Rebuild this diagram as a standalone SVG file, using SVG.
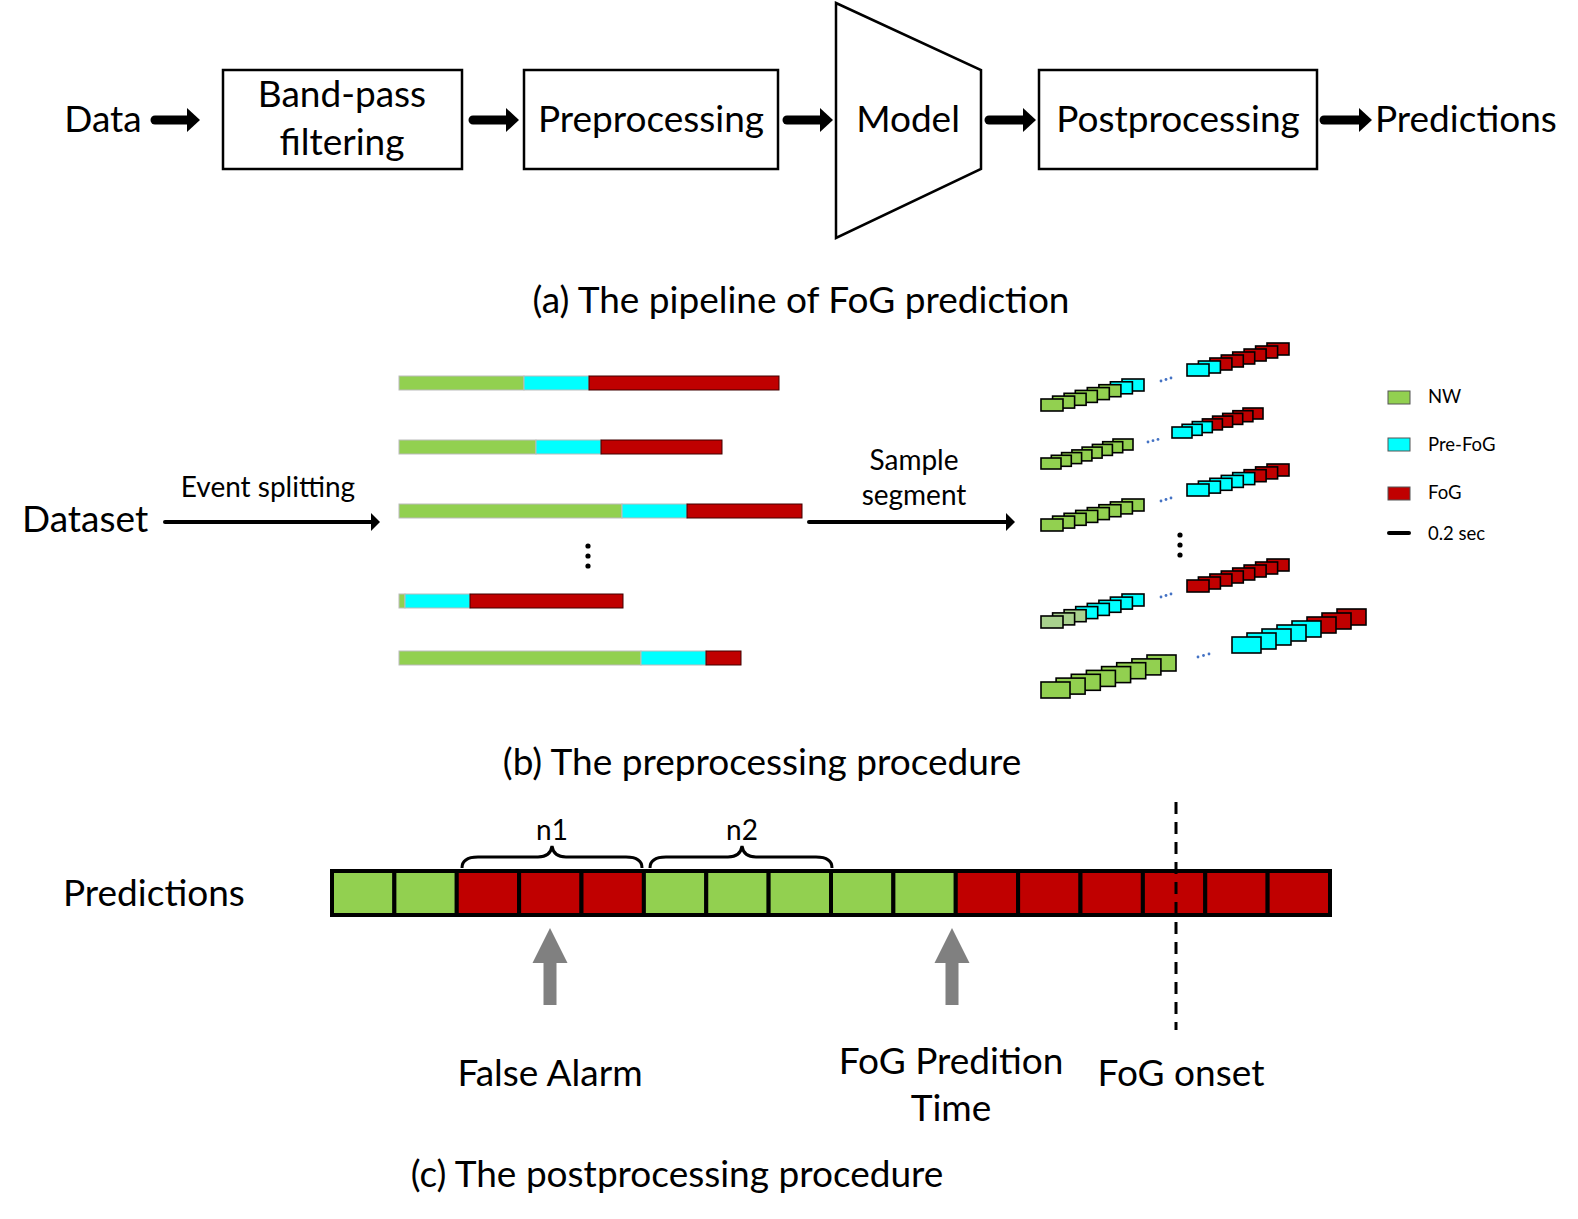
<svg xmlns="http://www.w3.org/2000/svg" width="1578" height="1219" viewBox="0 0 1578 1219">
<style>
text{font-family:Lato,"Liberation Sans",sans-serif;fill:#000}
.big{font-size:37px}
.mid{font-size:28px}
.leg{font-size:18.5px}
.box{fill:#fff;stroke:#000;stroke-width:2.5}
.thick{stroke:#000;stroke-width:9;stroke-linecap:round;fill:none}
.thin{stroke:#000;stroke-width:4;stroke-linecap:round;fill:none}
.g{fill:#92d050}.c{fill:#00ffff}.r{fill:#c00000}.lg{fill:#a9d18e}
.seg rect{stroke:#000;stroke-width:1.6}
.bar rect{stroke:#bbb;stroke-width:1}
.bar rect.r{stroke:#400000}
.cell{stroke:#000;stroke-width:4}
.dot{fill:#4472c4}
.brace{fill:none;stroke:#000;stroke-width:3}
.garrow{fill:#808080}
</style>
<defs>
<marker id="hb" markerUnits="userSpaceOnUse" markerWidth="13" markerHeight="24" viewBox="0 0 13 24" refX="1" refY="12" orient="auto"><path d="M0,0 L13,12 L0,24 z" fill="#000"/></marker>
<marker id="hs" markerUnits="userSpaceOnUse" markerWidth="9" markerHeight="18" viewBox="0 0 9 18" refX="1" refY="9" orient="auto"><path d="M0,0 L9,9 L0,18 z" fill="#000"/></marker>
</defs>

<!-- (a) pipeline -->
<g id="data"><text class="big" x="103" y="132" text-anchor="middle">Data</text></g>
<g id="bandpass"><rect class="box" x="223" y="70" width="239" height="99"/><text class="big" x="342" y="107" text-anchor="middle">Band-pass</text><text class="big" x="342" y="155" text-anchor="middle">filtering</text></g>
<g id="preprocessing"><rect class="box" x="524" y="70" width="254" height="99"/><text class="big" x="651" y="132" text-anchor="middle">Preprocessing</text></g>
<g id="model"><polygon class="box" points="836,3 981,70 981,169 836,238"/><text class="big" x="908" y="132" text-anchor="middle">Model</text></g>
<g id="postprocessing"><rect class="box" x="1039" y="70" width="278" height="99"/><text class="big" x="1178" y="132" text-anchor="middle">Postprocessing</text></g>
<g id="predictions-a"><text class="big" x="1375" y="132">Predictions</text></g>
<g id="caption-a"><text class="big" x="801" y="313" text-anchor="middle">(a) The pipeline of FoG prediction</text></g>

<g id="connectors">
<line class="thick" x1="155" y1="120" x2="188" y2="120" marker-end="url(#hb)"/>
<line class="thick" x1="473" y1="120" x2="507" y2="120" marker-end="url(#hb)"/>
<line class="thick" x1="787" y1="120" x2="821" y2="120" marker-end="url(#hb)"/>
<line class="thick" x1="989" y1="120" x2="1024" y2="120" marker-end="url(#hb)"/>
<line class="thick" x1="1324" y1="120" x2="1360" y2="120" marker-end="url(#hb)"/>
<line class="thin" x1="165" y1="522" x2="372" y2="522" marker-end="url(#hs)"/>
<line class="thin" x1="809" y1="522" x2="1007" y2="522" marker-end="url(#hs)"/>
</g>

<!-- (b) preprocessing -->
<g id="dataset"><text class="big" x="22" y="532">Dataset</text></g>
<g id="event-splitting-label"><text class="mid" x="268" y="497" text-anchor="middle">Event splitting</text></g>
<g id="sample-segment-label"><text class="mid" x="914" y="470" text-anchor="middle">Sample</text><text class="mid" x="914" y="505" text-anchor="middle">segment</text></g>

<g id="bars" class="bar">
<rect class="g" x="399" y="376" width="125" height="14"/><rect class="c" x="524" y="376" width="65" height="14"/><rect class="r" x="589" y="376" width="190" height="14"/>
<rect class="g" x="399" y="440" width="137" height="14"/><rect class="c" x="536" y="440" width="65" height="14"/><rect class="r" x="601" y="440" width="121" height="14"/>
<rect class="g" x="399" y="504" width="223" height="14"/><rect class="c" x="622" y="504" width="65" height="14"/><rect class="r" x="687" y="504" width="115" height="14"/>
<rect class="g" x="399" y="594" width="6" height="14"/><rect class="c" x="405" y="594" width="65" height="14"/><rect class="r" x="470" y="594" width="153" height="14"/>
<rect class="g" x="399" y="651" width="242" height="14"/><rect class="c" x="641" y="651" width="65" height="14"/><rect class="r" x="706" y="651" width="35" height="14"/>
</g>
<g id="bar-dots"><circle cx="588" cy="546" r="2.6"/><circle cx="588" cy="556" r="2.6"/><circle cx="588" cy="566" r="2.6"/></g>

<g id="segments" class="seg">
<rect class="c" x="1122" y="379" width="22" height="12"/>
<rect class="c" x="1110.4" y="381.8" width="22" height="12"/>
<rect class="g" x="1098.9" y="384.7" width="22" height="12"/>
<rect class="g" x="1087.3" y="387.6" width="22" height="12"/>
<rect class="g" x="1075.3" y="390.4" width="22" height="12"/>
<rect class="g" x="1064.1" y="393.3" width="22" height="12"/>
<rect class="g" x="1052.6" y="396.1" width="22" height="12"/>
<rect class="g" x="1041" y="399" width="22" height="12"/>
<rect class="r" x="1267" y="343" width="22" height="12"/>
<rect class="r" x="1255.6" y="346" width="22" height="12"/>
<rect class="r" x="1244.1" y="349" width="22" height="12"/>
<rect class="r" x="1232.7" y="352" width="22" height="12"/>
<rect class="r" x="1221.3" y="355" width="22" height="12"/>
<rect class="r" x="1209.9" y="358" width="22" height="12"/>
<rect class="c" x="1198.4" y="361" width="22" height="12"/>
<rect class="c" x="1187" y="364" width="22" height="12"/>
<rect class="g" x="1113" y="439" width="20" height="11"/>
<rect class="g" x="1102.7" y="441.7" width="20" height="11"/>
<rect class="g" x="1092.4" y="444.4" width="20" height="11"/>
<rect class="g" x="1082.1" y="447.1" width="20" height="11"/>
<rect class="g" x="1071.9" y="449.9" width="20" height="11"/>
<rect class="g" x="1061.6" y="452.6" width="20" height="11"/>
<rect class="g" x="1051.3" y="455.3" width="20" height="11"/>
<rect class="g" x="1041" y="458" width="20" height="11"/>
<rect class="r" x="1243" y="408" width="20" height="11"/>
<rect class="r" x="1232.9" y="410.7" width="20" height="11"/>
<rect class="r" x="1222.7" y="413.4" width="20" height="11"/>
<rect class="r" x="1212.6" y="416.1" width="20" height="11"/>
<rect class="r" x="1202.4" y="418.9" width="20" height="11"/>
<rect class="c" x="1192.3" y="421.6" width="20" height="11"/>
<rect class="c" x="1182.1" y="424.3" width="20" height="11"/>
<rect class="c" x="1172" y="427" width="20" height="11"/>
<rect class="g" x="1122" y="499" width="22" height="12"/>
<rect class="g" x="1110.4" y="501.9" width="22" height="12"/>
<rect class="g" x="1098.9" y="504.7" width="22" height="12"/>
<rect class="g" x="1087.3" y="507.6" width="22" height="12"/>
<rect class="g" x="1075.7" y="510.4" width="22" height="12"/>
<rect class="g" x="1064.1" y="513.3" width="22" height="12"/>
<rect class="g" x="1052.6" y="516.1" width="22" height="12"/>
<rect class="g" x="1041" y="519" width="22" height="12"/>
<rect class="r" x="1267" y="464" width="22" height="12"/>
<rect class="r" x="1255.6" y="466.9" width="22" height="12"/>
<rect class="r" x="1244.1" y="469.7" width="22" height="12"/>
<rect class="c" x="1232.7" y="472.6" width="22" height="12"/>
<rect class="c" x="1221.3" y="475.4" width="22" height="12"/>
<rect class="c" x="1209.9" y="478.3" width="22" height="12"/>
<rect class="c" x="1198.4" y="481.1" width="22" height="12"/>
<rect class="c" x="1187" y="484" width="22" height="12"/>
<rect class="c" x="1122" y="594" width="22" height="12"/>
<rect class="c" x="1110.4" y="597.1" width="22" height="12"/>
<rect class="c" x="1098.9" y="600.3" width="22" height="12"/>
<rect class="c" x="1087.3" y="603.4" width="22" height="12"/>
<rect class="c" x="1075.7" y="606.6" width="22" height="12"/>
<rect class="lg" x="1064.1" y="609.7" width="22" height="12"/>
<rect class="lg" x="1052.6" y="612.9" width="22" height="12"/>
<rect class="lg" x="1041" y="616" width="22" height="12"/>
<rect class="r" x="1267" y="559" width="22" height="12"/>
<rect class="r" x="1255.6" y="562" width="22" height="12"/>
<rect class="r" x="1244.1" y="565" width="22" height="12"/>
<rect class="r" x="1232.7" y="568" width="22" height="12"/>
<rect class="r" x="1221.3" y="571" width="22" height="12"/>
<rect class="r" x="1209.9" y="574" width="22" height="12"/>
<rect class="r" x="1198.4" y="577" width="22" height="12"/>
<rect class="r" x="1187" y="580" width="22" height="12"/>
<rect class="g" x="1147" y="655" width="29" height="16"/>
<rect class="g" x="1131.9" y="658.9" width="29" height="16"/>
<rect class="g" x="1116.7" y="662.7" width="29" height="16"/>
<rect class="g" x="1101.6" y="666.6" width="29" height="16"/>
<rect class="g" x="1086.4" y="670.4" width="29" height="16"/>
<rect class="g" x="1071.3" y="674.3" width="29" height="16"/>
<rect class="g" x="1056.1" y="678.1" width="29" height="16"/>
<rect class="g" x="1041" y="682" width="29" height="16"/>
<rect class="r" x="1337" y="609" width="29" height="16"/>
<rect class="r" x="1322" y="613" width="29" height="16"/>
<rect class="r" x="1307" y="617" width="29" height="16"/>
<rect class="c" x="1292" y="621" width="29" height="16"/>
<rect class="c" x="1277" y="625" width="29" height="16"/>
<rect class="c" x="1262" y="629" width="29" height="16"/>
<rect class="c" x="1247" y="633" width="29" height="16"/>
<rect class="c" x="1232" y="637" width="29" height="16"/>
</g>
<g id="seg-dots">
<circle class="dot" cx="1161" cy="381" r="1.4"/><circle class="dot" cx="1166" cy="379.5" r="1.4"/><circle class="dot" cx="1171" cy="378" r="1.4"/>
<circle class="dot" cx="1148" cy="442" r="1.4"/><circle class="dot" cx="1153" cy="440.7" r="1.4"/><circle class="dot" cx="1158" cy="439.4" r="1.4"/>
<circle class="dot" cx="1161" cy="501" r="1.4"/><circle class="dot" cx="1166" cy="499.5" r="1.4"/><circle class="dot" cx="1171" cy="498" r="1.4"/>
<circle class="dot" cx="1161" cy="597" r="1.4"/><circle class="dot" cx="1166" cy="595.5" r="1.4"/><circle class="dot" cx="1171" cy="594" r="1.4"/>
<circle class="dot" cx="1198" cy="657" r="1.4"/><circle class="dot" cx="1203.5" cy="655.5" r="1.4"/><circle class="dot" cx="1209" cy="654" r="1.4"/>
<circle cx="1180" cy="535" r="2.6"/><circle cx="1180" cy="545" r="2.6"/><circle cx="1180" cy="555" r="2.6"/>
</g>

<g id="legend">
<rect class="g" x="1388" y="391" width="22" height="13" stroke="#555" stroke-width="1"/><text class="leg" x="1428" y="403">NW</text>
<rect class="c" x="1388" y="438" width="22" height="13" stroke="#555" stroke-width="1"/><text class="leg" x="1428" y="451">Pre-FoG</text>
<rect class="r" x="1388" y="487" width="22" height="13" stroke="#555" stroke-width="1"/><text class="leg" x="1428" y="499">FoG</text>
<line x1="1389" y1="533" x2="1409" y2="533" stroke="#000" stroke-width="4" stroke-linecap="round"/><text class="leg" x="1428" y="540">0.2 sec</text>
</g>
<g id="caption-b"><text class="big" x="762" y="775" text-anchor="middle">(b) The preprocessing procedure</text></g>

<!-- (c) postprocessing -->
<g id="predictions-c"><text class="big" x="63" y="906">Predictions</text></g>
<g id="pred-bar" class="cell">
<rect class="g" x="332" y="871" width="62.375" height="44"/>
<rect class="g" x="394.375" y="871" width="62.375" height="44"/>
<rect class="r" x="456.75" y="871" width="62.375" height="44"/>
<rect class="r" x="519.125" y="871" width="62.375" height="44"/>
<rect class="r" x="581.5" y="871" width="62.375" height="44"/>
<rect class="g" x="643.875" y="871" width="62.375" height="44"/>
<rect class="g" x="706.25" y="871" width="62.375" height="44"/>
<rect class="g" x="768.625" y="871" width="62.375" height="44"/>
<rect class="g" x="831" y="871" width="62.375" height="44"/>
<rect class="g" x="893.375" y="871" width="62.375" height="44"/>
<rect class="r" x="955.75" y="871" width="62.375" height="44"/>
<rect class="r" x="1018.125" y="871" width="62.375" height="44"/>
<rect class="r" x="1080.5" y="871" width="62.375" height="44"/>
<rect class="r" x="1142.875" y="871" width="62.375" height="44"/>
<rect class="r" x="1205.25" y="871" width="62.375" height="44"/>
<rect class="r" x="1267.625" y="871" width="62.375" height="44"/>
</g>
<g id="brace-n1"><path class="brace" d="M462,868 C462,860 468,857 478,857 L538,857 C546,857 551,853 552,846 C553,853 558,857 566,857 L626,857 C636,857 642,860 642,868"/><text class="mid" x="552" y="840" text-anchor="middle">n1</text></g>
<g id="brace-n2"><path class="brace" d="M650,868 C650,860 656,857 666,857 L728,857 C736,857 741,853 742,846 C743,853 748,857 756,857 L816,857 C826,857 832,860 832,868"/><text class="mid" x="742" y="840" text-anchor="middle">n2</text></g>
<g id="false-alarm-arrow"><polygon class="garrow" points="550,928 567.5,963 556.5,963 556.5,1005 543.5,1005 543.5,963 532.5,963"/></g>
<g id="fog-prediction-arrow"><polygon class="garrow" points="952,928 969.5,963 958.5,963 958.5,1005 945.5,1005 945.5,963 934.5,963"/></g>
<g id="onset-line"><line x1="1176" y1="802" x2="1176" y2="1030" stroke="#000" stroke-width="3" stroke-dasharray="12 8"/></g>
<g id="false-alarm"><text class="big" x="550" y="1086" text-anchor="middle">False Alarm</text></g>
<g id="fog-prediction-time"><text class="big" x="951" y="1074" text-anchor="middle">FoG Predition</text><text class="big" x="951" y="1121" text-anchor="middle">Time</text></g>
<g id="fog-onset"><text class="big" x="1181" y="1086" text-anchor="middle">FoG onset</text></g>
<g id="caption-c"><text class="big" x="677" y="1187" text-anchor="middle">(c) The postprocessing procedure</text></g>
</svg>
